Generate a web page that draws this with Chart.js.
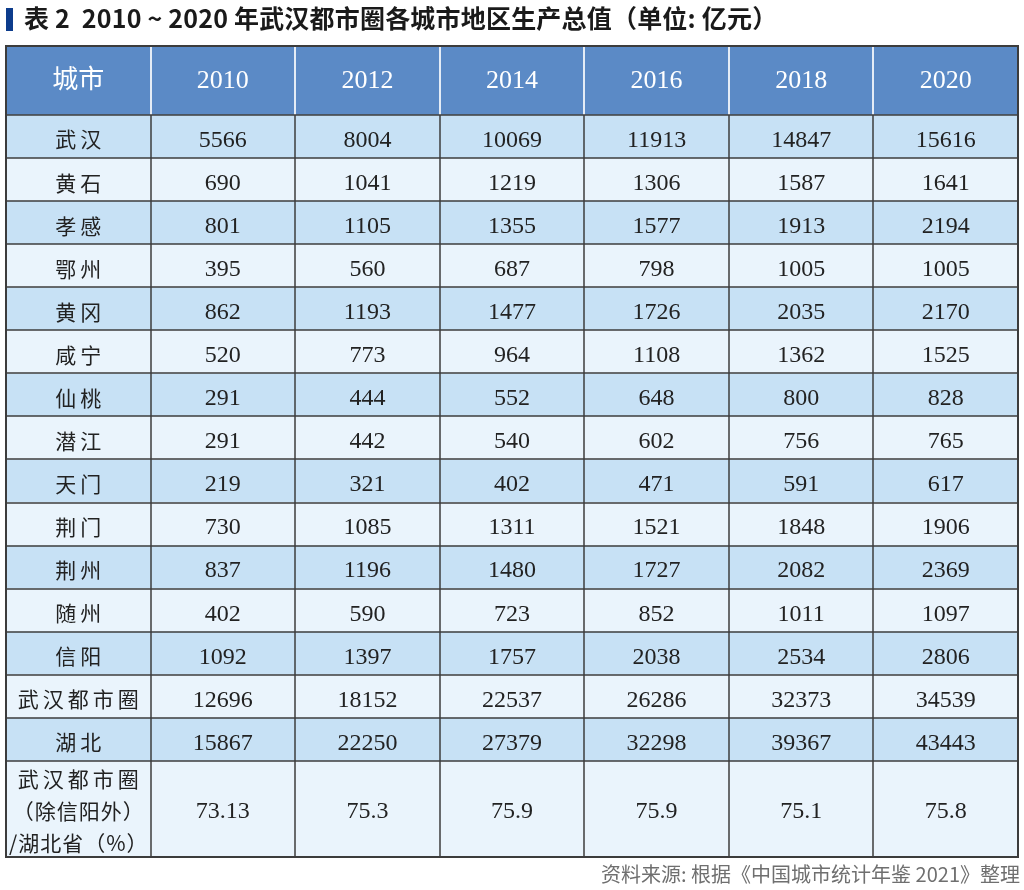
<!DOCTYPE html>
<html>
<head>
<meta charset="utf-8">
<script src="https://cdn.jsdelivr.net/npm/chart.js@4"></script>
<style>
  html, body { margin: 0; padding: 0; background: #fff; }
  #wrap { position: relative; width: 1024px; height: 890px; overflow: hidden; }
  #title {
    position: absolute; left: 6px; top: 2px; height: 30px;
    font-family: "Noto Sans CJK SC", "Noto Sans", sans-serif; font-weight: 700;
    font-size: 25px; letter-spacing: 0.2px; line-height: 30px; color: #1a1a1a; white-space: pre;
  }
  #title .mark { display: inline-block; width: 7px; height: 23px; background: #0d3c8c; vertical-align: -3px; margin-right: 11px; }
  #source {
    position: absolute; right: 4px; top: 860px;
    font-family: "Noto Sans CJK SC", "Noto Sans", sans-serif;
    font-size: 20px; line-height: 28px; color: #6f6f6f; white-space: pre;
  }
  canvas { position: absolute; left: 0; top: 0; }
</style>
</head>
<body>
<div id="wrap">
  <canvas id="tbl" width="1024" height="890"></canvas>
  <div id="title"><span class="mark"></span>表 2  2010 ~ 2020 年武汉都市圈各城市地区生产总值（单位: 亿元）</div>
  <div id="source">资料来源: 根据《中国城市统计年鉴 2021》整理</div>
</div>
<script>
// data
const headFirst = '城市';
const years = ['2010', '2012', '2014', '2016', '2018', '2020'];
const cities = ['武汉', '黄石', '孝感', '鄂州', '黄冈', '咸宁', '仙桃', '潜江', '天门', '荆门', '荆州', '随州', '信阳', '武汉都市圈', '湖北'];
const gdp2010 = [5566, 690, 801, 395, 862, 520, 291, 291, 219, 730, 837, 402, 1092, 12696, 15867];
const gdp2012 = [8004, 1041, 1105, 560, 1193, 773, 444, 442, 321, 1085, 1196, 590, 1397, 18152, 22250];
const gdp2014 = [10069, 1219, 1355, 687, 1477, 964, 552, 540, 402, 1311, 1480, 723, 1757, 22537, 27379];
const gdp2016 = [11913, 1306, 1577, 798, 1726, 1108, 648, 602, 471, 1521, 1727, 852, 2038, 26286, 32298];
const gdp2018 = [14847, 1587, 1913, 1005, 2035, 1362, 800, 756, 591, 1848, 2082, 1011, 2534, 32373, 39367];
const gdp2020 = [15616, 1641, 2194, 1005, 2170, 1525, 828, 765, 617, 1906, 2369, 1097, 2806, 34539, 43443];
const shareLabel = ['武汉都市圈', '（除信阳外）', '/湖北省（%）'];
const shareValues = ['73.13', '75.3', '75.9', '75.9', '75.1', '75.8'];

const series = [gdp2010, gdp2012, gdp2014, gdp2016, gdp2018, gdp2020];

// layout (row heights in units of a body row)
const headUnits = 1.6;
const lastUnits = 2.23;
const totalUnits = headUnits + cities.length + lastUnits;

const colors = {
  head: '#5b8ac6',
  rowA: '#c7e1f5',
  rowB: '#eaf4fc',
  line: '#3c3c3c',
  headLine: '#e4ecf6',
  text: '#222222'
};
const cellFont = "24px 'Liberation Serif', 'Noto Sans CJK SC', serif";
const nameFont = "21px 'Noto Sans CJK SC', sans-serif";
const headFont = "26px 'Liberation Serif', 'Noto Sans CJK SC', serif";

function spacedText(ctx, str, cx, cy, spacing) {
  ctx.letterSpacing = spacing + 'px';
  const w = ctx.measureText(str).width - spacing;
  ctx.textAlign = 'left';
  ctx.fillText(str, cx - w / 2, cy);
  ctx.letterSpacing = '0px';
}

const tablePlugin = {
  id: 'tablePlugin',
  beforeDatasetsDraw(chart) {
    const { ctx, scales: { x, y } } = chart;
    const nCols = years.length + 1;
    const rowTop = i => headUnits + i;

    ctx.save();
    // header fill
    ctx.fillStyle = colors.head;
    ctx.fillRect(x.getPixelForValue(0), y.getPixelForValue(0),
      x.getPixelForValue(nCols) - x.getPixelForValue(0), y.getPixelForValue(headUnits) - y.getPixelForValue(0));

    // body rows fill
    const nRows = cities.length + 1;
    for (let r = 0; r < nRows; r++) {
      const t = rowTop(r);
      const b = r < cities.length ? t + 1 : t + lastUnits;
      ctx.fillStyle = r % 2 === 0 ? colors.rowA : colors.rowB;
      const py = y.getPixelForValue(t);
      ctx.fillRect(x.getPixelForValue(0), py, x.getPixelForValue(nCols) - x.getPixelForValue(0), y.getPixelForValue(b) - py);
    }

    // header text
    ctx.fillStyle = '#ffffff';
    ctx.font = headFont;
    ctx.textBaseline = 'middle';
    ctx.textAlign = 'center';
    const hy = y.getPixelForValue(headUnits / 2) + 1;
    ctx.fillText(headFirst, x.getPixelForValue(0.5), hy);
    years.forEach((yr, c) => ctx.fillText(yr, x.getPixelForValue(c + 1.5), hy));

    // body text
    ctx.fillStyle = colors.text;
    cities.forEach((name, r) => {
      const cy = y.getPixelForValue(rowTop(r) + 0.5) + 3;
      ctx.font = nameFont;
      spacedText(ctx, name, x.getPixelForValue(0.5), cy, 4);
      ctx.font = cellFont;
      ctx.textAlign = 'center';
      series.forEach((vals, c) => ctx.fillText(String(vals[r]), x.getPixelForValue(c + 1.5), cy + 1));
    });

    // last row
    const lt = rowTop(cities.length);
    const lc = y.getPixelForValue(lt + lastUnits / 2);
    ctx.font = nameFont;
    shareLabel.forEach((s, i) => {
      const sp = i === 0 ? 4 : 1;
      spacedText(ctx, s, x.getPixelForValue(0.5), lc + (i - 1) * 32 + 2, sp);
    });
    ctx.font = cellFont;
    ctx.textAlign = 'center';
    shareValues.forEach((v, c) => ctx.fillText(v, x.getPixelForValue(c + 1.5), lc + 3));

    // header vertical separators
    ctx.strokeStyle = colors.headLine;
    ctx.lineWidth = 2;
    for (let c = 1; c < nCols; c++) {
      const px = Math.round(x.getPixelForValue(c));
      ctx.beginPath();
      ctx.moveTo(px, y.getPixelForValue(0));
      ctx.lineTo(px, y.getPixelForValue(headUnits));
      ctx.stroke();
    }

    // body grid
    ctx.strokeStyle = colors.line;
    ctx.lineWidth = 1.5;
    for (let c = 1; c < nCols; c++) {
      const px = Math.round(x.getPixelForValue(c));
      ctx.beginPath();
      ctx.moveTo(px, y.getPixelForValue(headUnits));
      ctx.lineTo(px, y.getPixelForValue(totalUnits));
      ctx.stroke();
    }
    for (let r = 0; r <= cities.length; r++) {
      const py = Math.round(y.getPixelForValue(rowTop(r)));
      ctx.beginPath();
      ctx.moveTo(x.getPixelForValue(0), py);
      ctx.lineTo(x.getPixelForValue(nCols), py);
      ctx.stroke();
    }

    // outer border
    ctx.lineWidth = 2;
    ctx.strokeRect(x.getPixelForValue(0), y.getPixelForValue(0),
      x.getPixelForValue(nCols) - x.getPixelForValue(0), y.getPixelForValue(totalUnits) - y.getPixelForValue(0));
    ctx.restore();
  }
};

new Chart(document.getElementById('tbl'), {
  type: 'scatter',
  data: { datasets: [{ data: [], pointRadius: 0 }] },
  options: {
    responsive: false,
    animation: false,
    devicePixelRatio: 1,
    layout: { padding: { left: 6, top: 46, right: 6, bottom: 33 } },
    scales: {
      x: { type: 'linear', min: 0, max: years.length + 1, display: false },
      y: { type: 'linear', min: 0, max: totalUnits, reverse: true, display: false }
    },
    plugins: { legend: { display: false }, tooltip: { enabled: false }, title: { display: false } }
  },
  plugins: [tablePlugin]
});
</script>
</body>
</html>
